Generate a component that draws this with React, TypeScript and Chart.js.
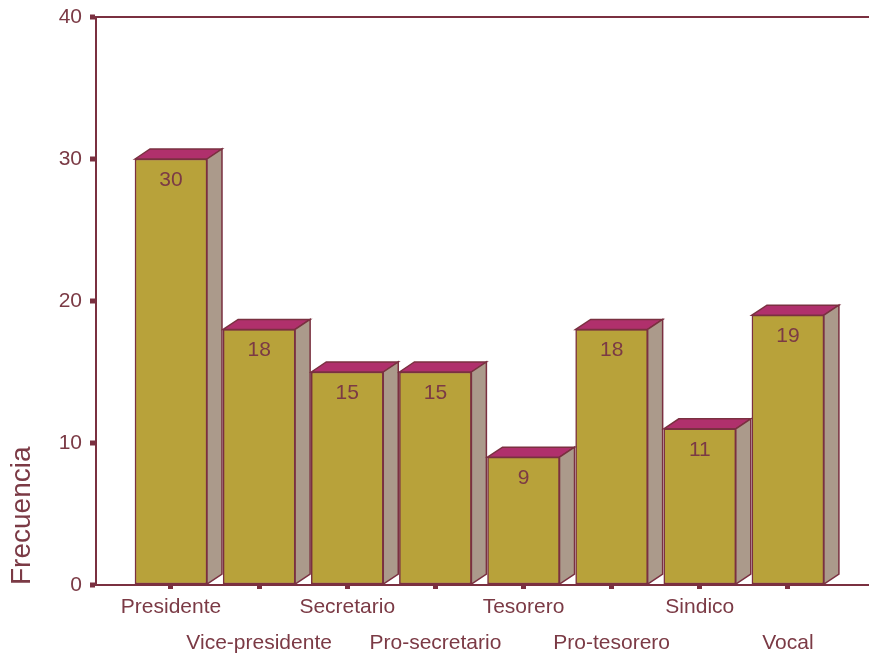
import React, { useEffect, useRef } from "react";
import { Chart, registerables } from "chart.js";

Chart.register(...registerables);

const categories = [
  "Presidente",
  "Vice-presidente",
  "Secretario",
  "Pro-secretario",
  "Tesorero",
  "Pro-tesorero",
  "Sindico",
  "Vocal",
];
const frecuencia = [30, 18, 15, 15, 9, 18, 11, 19];
const yTicks = [0, 10, 20, 30, 40];
const yAxisTitle = "Frecuencia";

const FRONT = "#b8a23a";
const TOP = "#b0306c";
const SIDE = "#ab9a8b";
const LINE = "#7a3040";
const TEXT = "#7b3a45";
const FONT = "'Liberation Sans', Arial, sans-serif";

const depthPlugin = {
  id: "depth3d",
  afterDatasetsDraw(chart: any) {
    const ctx = chart.ctx;
    const meta = chart.getDatasetMeta(0);
    const dx = 15;
    const dy = 10;
    ctx.save();
    ctx.lineWidth = 1.5;
    ctx.strokeStyle = LINE;
    ctx.lineJoin = "miter";
    meta.data.forEach((bar: any, i: number) => {
      const { x, y, base, width } = bar.getProps(["x", "y", "base", "width"], true);
      const l = x - width / 2;
      const r = x + width / 2;
      // top face
      ctx.beginPath();
      ctx.moveTo(l, y);
      ctx.lineTo(l + dx, y - dy);
      ctx.lineTo(r + dx, y - dy);
      ctx.lineTo(r, y);
      ctx.closePath();
      ctx.fillStyle = TOP;
      ctx.fill();
      ctx.stroke();
      // side face
      ctx.beginPath();
      ctx.moveTo(r, y);
      ctx.lineTo(r + dx, y - dy);
      ctx.lineTo(r + dx, base - dy);
      ctx.lineTo(r, base);
      ctx.closePath();
      ctx.fillStyle = SIDE;
      ctx.fill();
      ctx.stroke();
      // value label
      ctx.fillStyle = TEXT;
      ctx.font = `21px ${FONT}`;
      ctx.textAlign = "center";
      ctx.textBaseline = "middle";
      ctx.fillText(String(frecuencia[i]), x, y + 21);
    });
    ctx.restore();
  },
};

export default function App() {
  const ref = useRef<HTMLCanvasElement | null>(null);

  useEffect(() => {
    if (!ref.current) return;
    const chart = new Chart(ref.current, {
      type: "bar",
      data: {
        datasets: [
          {
            data: frecuencia.map((v, i) => ({ x: i, y: v })),
            backgroundColor: FRONT,
            borderColor: LINE,
            borderWidth: 1.5,
            borderSkipped: false,
            barThickness: 72,
          },
        ],
      },
      options: {
        animation: false,
        responsive: true,
        maintainAspectRatio: false,
        layout: { padding: { left: 0, right: 0, top: 17, bottom: 0 } },
        plugins: {
          legend: { display: false },
          tooltip: { enabled: false },
        },
        scales: {
          x: {
            type: "linear",
            offset: false,
            min: -0.851,
            max: 7.92,
            afterBuildTicks: (scale: any) => {
              scale.ticks = categories.map((_, i) => ({ value: i }));
            },
            afterFit: (scale: any) => {
              scale.height = 71;
              scale.paddingLeft = 0;
              scale.paddingRight = 0;
            },
            border: { display: true, color: LINE, width: 2 },
            grid: {
              offset: false,
              drawOnChartArea: false,
              drawTicks: true,
              tickLength: 4,
              tickWidth: 5,
              tickColor: LINE,
            },
            ticks: {
              padding: 0,
              color: TEXT,
              font: { family: FONT, size: 21, lineHeight: 36 / 21 },
              maxRotation: 0,
              autoSkip: false,
              callback: (v: any) => {
                const i = Math.round(Number(v));
                const lab = categories[i] ?? "";
                return i % 2 === 0 ? [lab] : ["", lab];
              },
            },
          },
          y: {
            min: 0,
            max: 40,
            afterBuildTicks: (scale: any) => {
              scale.ticks = yTicks.map((v) => ({ value: v }));
            },
            afterFit: (scale: any) => {
              scale.width = 96;
              scale.paddingTop = 0;
              scale.paddingBottom = 0;
            },
            border: { display: true, color: LINE, width: 2 },
            grid: {
              color: (c: any) => (c.tick && c.tick.value === 40 ? LINE : "rgba(0,0,0,0)"),
              lineWidth: 2,
              tickLength: 6,
              tickWidth: 5,
              tickColor: LINE,
            },
            ticks: {
              padding: 8,
              color: TEXT,
              font: { family: FONT, size: 21 },
            },
            title: {
              display: true,
              text: yAxisTitle,
              align: "start",
              color: TEXT,
              font: { family: FONT, size: 28 },
              padding: { top: 5, bottom: 0 },
            },
          },
        },
      },
      plugins: [depthPlugin],
    } as any);
    return () => chart.destroy();
  }, []);

  return (
    <div style={{ position: "fixed", left: 0, top: 0, width: 869, height: 656, background: "#fff" }}>
      <canvas ref={ref} />
    </div>
  );
}
